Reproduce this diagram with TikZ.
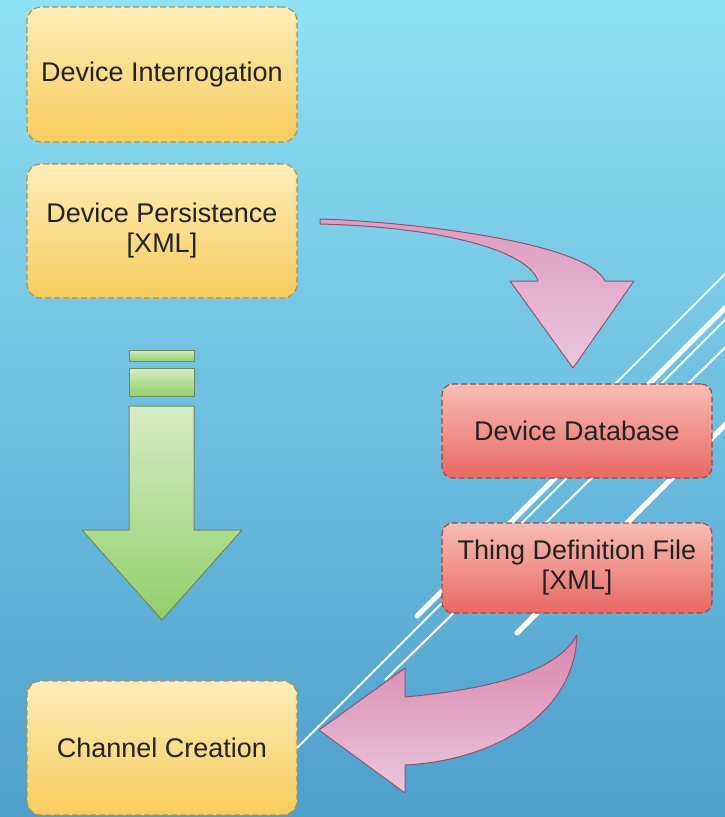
\documentclass[tikz,border=0pt]{standalone}
\usepackage{fontspec}
\setmainfont{Liberation Sans}
\definecolor{skytop}{HTML}{8EE0F4}
\definecolor{skybot}{HTML}{4F9FCC}
\definecolor{yellowtop}{HTML}{FDEDB8}
\definecolor{yellowbot}{HTML}{F7CC5C}
\definecolor{yellowline}{HTML}{B8904A}
\definecolor{redtop}{HTML}{F7BDB5}
\definecolor{redbot}{HTML}{E96862}
\definecolor{redline}{HTML}{9E4C4A}
\definecolor{greentop}{HTML}{D8ECC6}
\definecolor{greenbot}{HTML}{90CF68}
\definecolor{greenline}{HTML}{6E8A5E}
\definecolor{pinktop}{HTML}{DE9CC0}
\definecolor{pinkbot}{HTML}{EAC6DC}
\definecolor{pinkline}{HTML}{8C5870}
\definecolor{textgray}{HTML}{222222}
\begin{document}
\begin{tikzpicture}[x=1pt,y=-1pt,
    stage/.style={draw=yellowline,dash pattern=on 6pt off 3pt,line width=1.2pt,rounded corners=14pt,
        top color=yellowtop,bottom color=yellowbot,minimum width=270pt,align=center,
        text=textgray,font=\fontsize{27}{30}\selectfont},
    store/.style={stage,draw=redline,top color=redtop,bottom color=redbot,rounded corners=11pt},
    blockarrow/.style={draw=pinkline,line width=1pt,line join=round,top color=pinktop,bottom color=pinkbot},
    greenarrow/.style={blockarrow,draw=greenline,top color=greentop,bottom color=greenbot},
    stripe/.style={white,line width=2pt},
    thickstripe/.style={white,line width=5pt,line cap=round}]
    \clip (0,0) rectangle (725,817);
    \fill[top color=skytop,bottom color=skybot] (0,0) rectangle (725,817);
    \draw[stripe] (600,399) -- (740,259);
    \draw[thickstripe] (417,616) -- (740,293);
    \draw[stripe] (297,748) -- (740,305);
    \draw[stripe] (385,680) -- (740,333);
    \draw[thickstripe] (517,633) -- (740,410);

    \node[stage,minimum height=135pt] (interr) at (162,74.5) {Device Interrogation};
    \node[stage,minimum height=134pt] (persist) at (162,231) {Device Persistence\\{}[XML]};
    \node[stage,minimum height=134pt] (channel) at (162,748) {Channel Creation};
    \node[store,minimum height=94pt] (devdb) at (577,431) {Device Database};
    \node[store,minimum height=90pt] (thingdef) at (577,568) {Thing Definition File\\{}[XML]};

    \draw[greenarrow] (129,350) rectangle (194,361);
    \draw[greenarrow] (129,368) rectangle (194,396);
    \draw[greenarrow] (129,406) -- (194,406) -- (194,530) -- (242,530) -- (162,620) -- (82,530) -- (129,530) -- cycle;
    \draw[blockarrow] (320,219) .. controls (395,221) and (585,240) .. (605,281) -- (634,281) -- (573,368)
        -- (510,281) -- (538,281) .. controls (528,250) and (440,227) .. (320,224) -- cycle;
    \draw[blockarrow,top color=pinktop!85!purple] (405,697) .. controls (480,690) and (555,675) .. (577,635)
        .. controls (575,710) and (500,760) .. (405,765) -- (405,793) -- (319,730) -- (405,668) -- cycle;
\end{tikzpicture}
\end{document}
